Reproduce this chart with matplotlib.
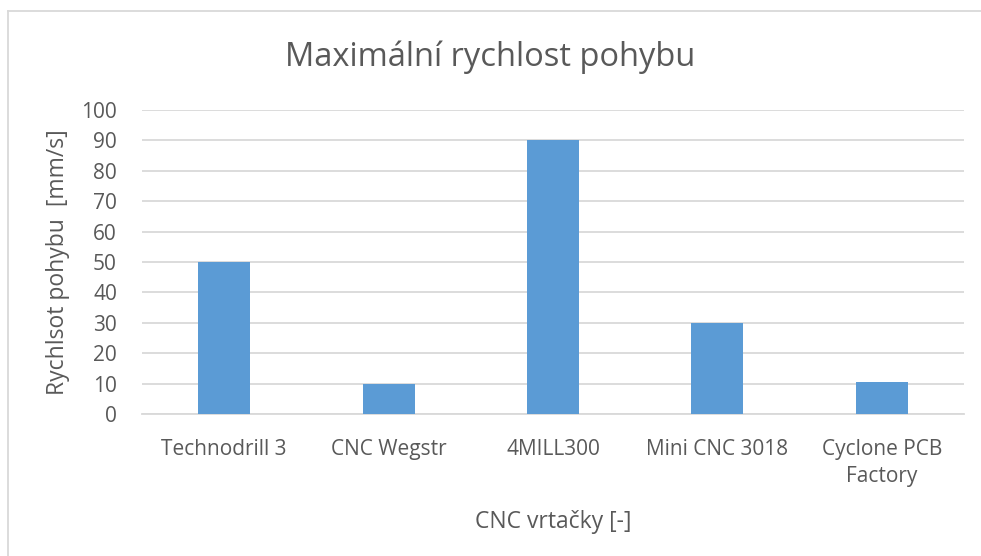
import matplotlib.pyplot as plt

# chart data
machines = ['Technodrill 3', 'CNC Wegstr', '4MILL300', 'Mini CNC 3018', 'Cyclone PCB\nFactory']
max_speed = [50, 10, 90, 30, 10.4]
y_ticks = [0, 10, 20, 30, 40, 50, 60, 70, 80, 90, 100]

text_color = '#595959'
grid_color = '#d9d9d9'
bar_color = '#5b9bd5'

plt.rcParams['font.family'] = ['Open Sans', 'DejaVu Sans']

fig = plt.figure(figsize=(9.81, 5.56), dpi=100)
ax = fig.add_axes([142 / 981, 1 - 414 / 556, (964 - 142) / 981, (414 - 110) / 556])

x = list(range(len(machines)))
ax.bar(x, max_speed, width=0.316, color=bar_color, zorder=3)

ax.set_xlim(-0.5, len(machines) - 0.5)
ax.set_ylim(0, 100)
ax.set_yticks(y_ticks)
ax.set_xticks(x)
ax.set_xticklabels(machines, linespacing=1.35)

ax.grid(axis='y', color=grid_color, linewidth=1.3, zorder=0)
for side in ['top', 'right', 'left']:
    ax.spines[side].set_visible(False)
ax.spines['bottom'].set_color(grid_color)
ax.spines['bottom'].set_linewidth(1.3)
ax.tick_params(axis='y', length=0, labelsize=15, labelcolor=text_color, pad=18)
ax.tick_params(axis='x', length=0, labelsize=15, labelcolor=text_color, pad=18)

ax.set_ylabel('Rychlsot pohybu  [mm/s]', fontsize=16.5, color=text_color, labelpad=8)
ax.set_xlabel('CNC vrtačky [-]', fontsize=16.5, color=text_color, labelpad=17)

fig.text(0.5, 1 - 57 / 556, 'Maximální rychlost pohybu', ha='center', va='center',
         fontsize=23.5, color=text_color)

# chart frame (only top and left edges are visible in the picture)
fig.add_artist(plt.Line2D([8 / 981, 1], [1 - 11 / 556, 1 - 11 / 556], transform=fig.transFigure,
                          color=grid_color, linewidth=1.3))
fig.add_artist(plt.Line2D([8 / 981, 8 / 981], [0, 1 - 11 / 556], transform=fig.transFigure,
                          color=grid_color, linewidth=1.3))

fig.savefig('out.png', dpi=100)
